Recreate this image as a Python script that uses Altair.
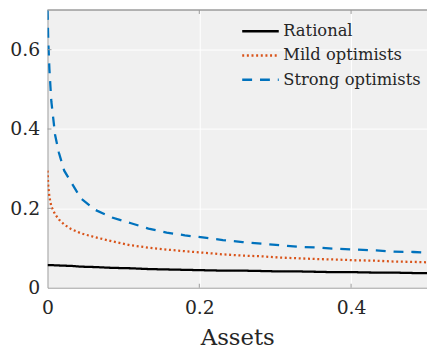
import altair as alt
import pandas as pd

series_names = ["Rational", "Mild optimists", "Strong optimists"]
colors = ["#000000", "#D95319", "#0072BD"]

assets = [0, 0.001, 0.0025, 0.005, 0.01, 0.015, 0.022, 0.031, 0.044, 0.063, 0.085,
          0.109, 0.133, 0.157, 0.181, 0.207, 0.231, 0.257, 0.283, 0.306, 0.332,
          0.357, 0.380, 0.407, 0.433, 0.456, 0.482, 0.5]
rational = [0.057, 0.057, 0.057, 0.0568, 0.0565, 0.056, 0.0555, 0.055, 0.053, 0.052, 0.050,
            0.049, 0.047, 0.046, 0.045, 0.044, 0.043, 0.043, 0.042, 0.041, 0.041,
            0.040, 0.039, 0.039, 0.038, 0.038, 0.037, 0.037]
mild = [0.295, 0.255, 0.229, 0.205, 0.185, 0.172, 0.159, 0.148, 0.137, 0.127, 0.117,
        0.107, 0.101, 0.096, 0.092, 0.088, 0.084, 0.081, 0.079, 0.076, 0.074,
        0.072, 0.071, 0.069, 0.068, 0.066, 0.065, 0.064]
strong = [0.70, 0.62, 0.55, 0.47, 0.385, 0.34, 0.295, 0.266, 0.225, 0.196, 0.177,
          0.163, 0.149, 0.139, 0.132, 0.126, 0.120, 0.115, 0.111, 0.107, 0.103,
          0.101, 0.098, 0.096, 0.094, 0.091, 0.090, 0.088]

x_ticks = [0, 0.2, 0.4]
y_ticks = [0, 0.2, 0.4, 0.6]

rows = []
for name, vals in zip(series_names, [rational, mild, strong]):
    for a, v in zip(assets, vals):
        rows.append({"asset": a, "value": v, "series": name})
df = pd.DataFrame(rows)

W, H = 384, 281
FONT = "DejaVu Serif"
AXC = "#9a9a9a"

xscale = alt.Scale(domain=[0, 0.5], nice=False, zero=False)
yscale = alt.Scale(domain=[0, 0.7], nice=False, zero=False)

leg = dict(title=None, orient="none", legendX=205, legendY=11,
           symbolType="M-2,0H2", symbolSize=342,
           symbolStrokeWidth=2.5, labelFontSize=16.5,
           labelFont=FONT, labelColor="#262626",
           labelOffset=12.5, rowPadding=5.5)

lines = alt.Chart(df).mark_line(strokeWidth=2.3, clip=True).encode(
    x=alt.X("asset:Q", scale=xscale,
            axis=alt.Axis(values=x_ticks, format="~g", title="Assets", ticks=False,
                          labelFlush=False, labelPadding=11, titlePadding=9,
                          titleFontSize=23, titleFontWeight="normal")),
    y=alt.Y("value:Q", scale=yscale,
            axis=alt.Axis(values=y_ticks, format="~g", title=None, ticks=False,
                          labelFlush=False, labelPadding=8)),
    color=alt.Color("series:N", sort=series_names,
                    scale=alt.Scale(domain=series_names, range=colors),
                    legend=alt.Legend(**leg)),
    strokeDash=alt.StrokeDash("series:N", sort=series_names,
                              scale=alt.Scale(domain=series_names,
                                              range=[[1, 0], [2, 2.7], [10, 8]]),
                              legend=alt.Legend(**leg)),
    order=alt.Order("asset:Q"),
)

xt = pd.DataFrame({"asset": x_ticks[1:]})
yt = pd.DataFrame({"value": y_ticks[1:]})

xticks_bottom = alt.Chart(xt).mark_rule(color=AXC, strokeWidth=1).encode(
    x=alt.X("asset:Q", scale=xscale), y=alt.value(H), y2=alt.value(H - 4))
xticks_top = alt.Chart(xt).mark_rule(color=AXC, strokeWidth=1).encode(
    x=alt.X("asset:Q", scale=xscale), y=alt.value(0), y2=alt.value(4))
yticks_left = alt.Chart(yt).mark_rule(color=AXC, strokeWidth=1).encode(
    y=alt.Y("value:Q", scale=yscale), x=alt.value(0), x2=alt.value(4))
top_border = alt.Chart(xt).mark_rule(color=AXC, strokeWidth=1).encode(
    x=alt.value(0), x2=alt.value(W), y=alt.value(0))

chart = alt.layer(lines, xticks_bottom, xticks_top, yticks_left, top_border).properties(
    width=W, height=H,
    padding={"left": 40, "top": 0, "right": 0, "bottom": 60},
    autosize=alt.AutoSizeParams(type="none"),
    background="white",
).configure_view(
    fill="#F0F0F0", stroke=None
).configure_axis(
    labelFont=FONT, titleFont=FONT, labelFontSize=19, labelColor="#262626",
    titleColor="#262626", domainColor=AXC, domainWidth=1,
    grid=True, gridColor="#FFFFFF", gridWidth=1, gridOpacity=1,
)

chart.save("out.html", embed_options={"renderer": "svg", "actions": False})
